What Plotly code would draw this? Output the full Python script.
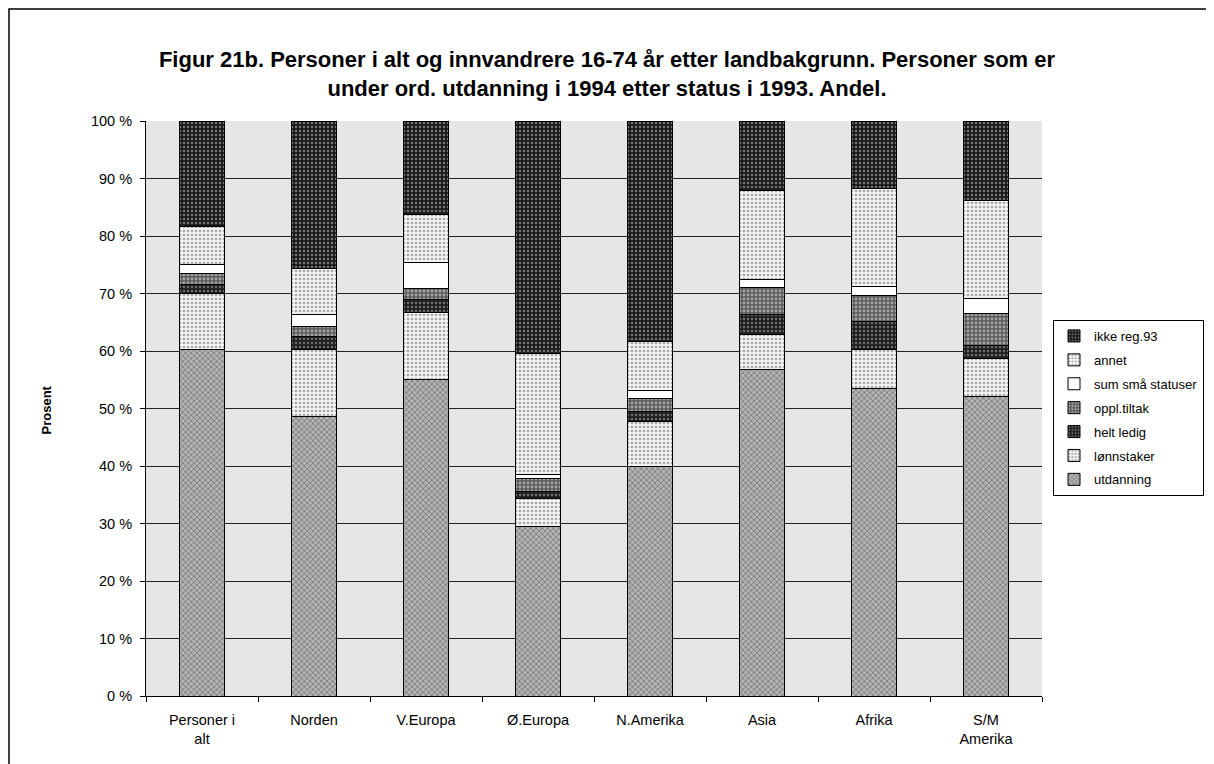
import plotly.graph_objects as go

categories = ["Personer i<br>alt", "Norden", "V.Europa", "Ø.Europa", "N.Amerika",
              "Asia", "Afrika", "S/M<br>Amerika"]

utdanning = [60.2, 48.6, 55.0, 29.4, 40.0, 56.7, 53.5, 52.1]
lonnstaker = [9.8, 11.7, 11.7, 4.9, 7.7, 6.1, 6.7, 6.6]
helt_ledig = [1.5, 2.3, 2.2, 1.3, 1.7, 3.5, 4.9, 2.3]
oppl_tiltak = [1.9, 1.6, 2.0, 2.3, 2.4, 4.7, 4.5, 5.5]
sum_sma = [1.7, 2.2, 4.5, 0.7, 1.4, 1.5, 1.6, 2.6]
annet = [6.6, 8.0, 8.4, 21.0, 8.4, 15.5, 17.1, 17.0]
ikke_reg = [18.3, 25.6, 16.2, 40.4, 38.4, 12.0, 11.7, 13.9]

series = [
    ("utdanning", utdanning, dict(shape="x", bgcolor="#b4b4b4", fgcolor="#2e2e2e", size=4, solidity=0.35)),
    ("lønnstaker", lonnstaker, dict(shape=".", bgcolor="#f4f4f4", fgcolor="#555555", size=4, solidity=0.35)),
    ("helt ledig", helt_ledig, dict(shape=".", bgcolor="#1e1e1e", fgcolor="#bbbbbb", size=4, solidity=0.3)),
    ("oppl.tiltak", oppl_tiltak, dict(shape=".", bgcolor="#5a5a5a", fgcolor="#f0f0f0", size=4, solidity=0.4)),
    ("sum små statuser", sum_sma, dict(shape="", bgcolor="white", fgcolor="white")),
    ("annet", annet, dict(shape=".", bgcolor="#f4f4f4", fgcolor="#555555", size=4, solidity=0.35)),
    ("ikke reg.93", ikke_reg, dict(shape=".", bgcolor="#1a1a1a", fgcolor="#d0d0d0", size=4, solidity=0.3)),
]

FONT = "Liberation Sans, Arial, sans-serif"

fig = go.Figure()
for i, (name, vals, pat) in enumerate(series):
    fig.add_trace(go.Bar(
        x=categories, y=vals, name=name, legendgroup=name,
        legendrank=100 - i,
        marker=dict(color=pat["bgcolor"], pattern=pat,
                    line=dict(color="black", width=1)),
    ))

# the page puts the figure 8 px in from the top-left corner
OFF = 8
# plot area on screen: x 146..1042, y 121..696
L, T = 146 - OFF, 121 - OFF
R, B = 1214 - (1042 - OFF), 764 - (696 - OFF)
W, H = 1214 - L - R, 764 - T - B

def px(x):
    return (x - OFF - L) / W

def py(y):
    return (764 - B - (y - OFF)) / H

fig.update_layout(
    barmode="stack",
    bargap=0.6,
    width=1214, height=764,
    margin=dict(l=L, r=R, t=T, b=B, autoexpand=False),
    paper_bgcolor="white",
    plot_bgcolor="#e6e6e6",
    font=dict(family=FONT, size=14.5, color="black"),
    title=dict(
        text="<b>Figur 21b. Personer i alt og innvandrere 16-74 år etter landbakgrunn. Personer som er<br>"
             "under ord. utdanning i 1994 etter status i 1993. Andel.</b>",
        x=(607 - OFF) / 1214, xanchor="center", xref="container",
        y=1 - 59 / 764, yanchor="middle", yref="container",
        font=dict(family=FONT, size=22, color="black"),
    ),
    legend=dict(
        traceorder="grouped", tracegroupgap=4,
        x=px(1053), xanchor="left", y=py(320), yanchor="top",
        bgcolor="white", bordercolor="black", borderwidth=1,
        font=dict(family=FONT, size=13),
        itemwidth=30,
    ),
    showlegend=True,
    annotations=[dict(text="<b>Prosent</b>", textangle=-90, showarrow=False,
                      xref="paper", yref="paper", x=px(36), y=py(410),
                      font=dict(family=FONT, size=13))],
    shapes=[dict(type="rect", xref="paper", yref="paper",
                 x0=px(9), x1=px(1207), y0=py(790), y1=py(9),
                 line=dict(color="black", width=1.5), fillcolor="rgba(0,0,0,0)",
                 layer="below")],
)

fig.update_yaxes(
    range=[0, 100], dtick=10, ticksuffix=" %",
    showgrid=True, gridcolor="#222222", gridwidth=1,
    showline=True, linecolor="black", linewidth=1,
    ticks="outside", ticklen=5, tickcolor="black", ticklabelstandoff=5,
    zeroline=False, automargin=False,
)
fig.update_xaxes(
    showline=True, linecolor="black", linewidth=1,
    ticks="outside", ticklen=5, tickcolor="black", tickson="boundaries",
    ticklabelstandoff=11,
    showgrid=False, automargin=False,
)

fig.write_html("out.html")
